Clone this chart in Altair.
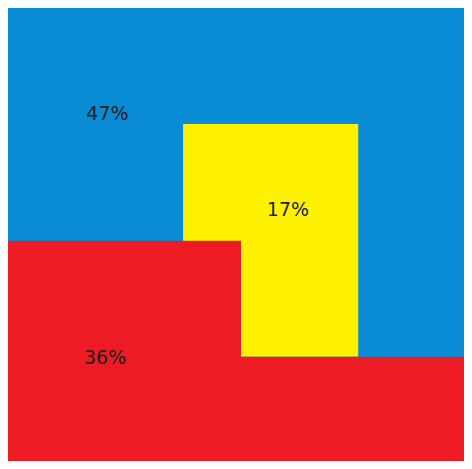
import altair as alt
import pandas as pd

# Regions (in percent of the plot area; y measured from the top), drawn in this order
names = ["a_blue", "b_yellow", "c_red_upper", "d_red_lower"]
x_start = [0.0, 38.4, 0.0, 51.1]
x_end = [100.0, 76.8, 51.1, 100.0]
y_start = [0.0, 25.6, 51.4, 77.0]
y_end = [100.0, 77.0, 100.0, 100.0]
colors = ["#0a8bd5", "#fff200", "#ed1c24", "#ed1c24"]

# Labels
label_text = ["47%", "17%", "36%"]
label_x = [21.8, 61.4, 21.3]
label_y = [23.3, 44.7, 77.2]

rects = pd.DataFrame({"name": names, "x": x_start, "x2": x_end,
                      "y": y_start, "y2": y_end, "color": colors})
labels = pd.DataFrame({"text": label_text, "x": label_x, "y": label_y})

xs = alt.Scale(domain=[0, 100], nice=False, zero=False)
ys = alt.Scale(domain=[0, 100], nice=False, zero=False, reverse=True)

rect_layer = alt.Chart(rects).mark_rect(strokeWidth=0).encode(
    x=alt.X("x:Q", scale=xs, axis=None),
    x2="x2:Q",
    y=alt.Y("y:Q", scale=ys, axis=None),
    y2="y2:Q",
    color=alt.Color("color:N", scale=None, legend=None),
    order=alt.Order("name:N"),
)

text_layer = alt.Chart(labels).mark_text(
    font="DejaVu Sans", fontSize=19, color="#1e1e1e", align="center", baseline="middle"
).encode(
    x=alt.X("x:Q", scale=xs, axis=None),
    y=alt.Y("y:Q", scale=ys, axis=None),
    text="text:N",
)

chart = alt.layer(rect_layer, text_layer).properties(
    width=456, height=453,
    padding=0,
    autosize=alt.AutoSizeParams(type="none"),
    background="white",
).configure_view(stroke=None)

chart.save("out.html", embed_options={"renderer": "svg", "actions": False})
